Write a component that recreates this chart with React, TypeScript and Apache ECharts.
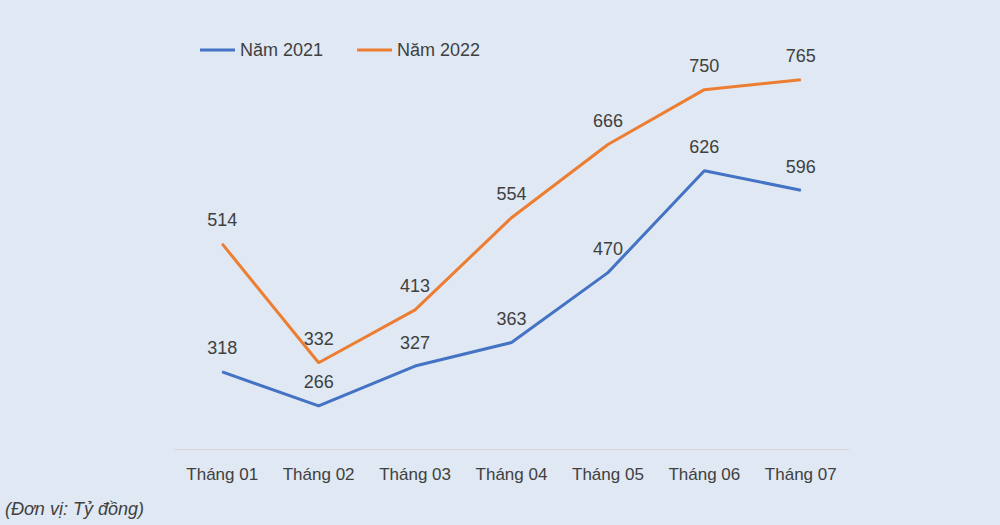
import { useEffect, useRef } from "react";
import * as echarts from "echarts";

const months = ["Tháng 01", "Tháng 02", "Tháng 03", "Tháng 04", "Tháng 05", "Tháng 06", "Tháng 07"];
const values2021 = [318, 266, 327, 363, 470, 626, 596];
const values2022 = [514, 332, 413, 554, 666, 750, 765];
const seriesNames = ["Năm 2021", "Năm 2022"];

const FONT = "'Liberation Sans', Arial, sans-serif";
const TEXT = "#404040";

export default function App() {
  const chartRef = useRef<HTMLDivElement>(null);

  useEffect(() => {
    if (!chartRef.current) return;
    document.body.style.margin = "0";
    const chart = echarts.init(chartRef.current, undefined, { renderer: "svg" });

    const labelStyle = {
      show: true,
      position: "top" as const,
      distance: 14,
      fontSize: 18,
      color: TEXT,
      fontFamily: FONT,
    };

    const option: echarts.EChartsOption = {
      animation: false,
      backgroundColor: "#dfe8f3",
      textStyle: { fontFamily: FONT },
      legend: {
        data: seriesNames,
        left: 195,
        top: 36,
        itemWidth: 35,
        itemHeight: 3,
        itemGap: 34,
        icon: "rect",
        textStyle: { fontSize: 18, color: TEXT, fontFamily: FONT },
      },
      grid: { left: 174, right: 151, top: 57, bottom: 76 },
      xAxis: {
        type: "category",
        data: months,
        axisLine: { lineStyle: { color: "#d9d6dc", width: 1 } },
        axisTick: { show: false },
        axisLabel: { interval: 0, fontSize: 17, color: TEXT, margin: 17, fontFamily: FONT },
      },
      yAxis: {
        type: "value",
        min: 200,
        max: 800,
        show: false,
        splitLine: { show: false },
      },
      graphic: [
        {
          type: "text",
          left: 5,
          top: 500,
          style: {
            text: "(Đơn vị: Tỷ đồng)",
            fontSize: 18,
            fontStyle: "italic",
            fontFamily: FONT,
            fill: TEXT,
          },
        },
      ],
      series: [
        {
          name: seriesNames[0],
          type: "line",
          data: values2021,
          symbol: "circle",
          symbolSize: 1,
          lineStyle: { color: "#4472c4", width: 3 },
          itemStyle: { color: "#4472c4" },
          label: labelStyle,
        },
        {
          name: seriesNames[1],
          type: "line",
          data: values2022,
          symbol: "circle",
          symbolSize: 1,
          lineStyle: { color: "#ed7d31", width: 3 },
          itemStyle: { color: "#ed7d31" },
          label: labelStyle,
        },
      ],
    };

    chart.setOption(option);
    return () => chart.dispose();
  }, []);

  return <div ref={chartRef} style={{ width: 1000, height: 525 }} />;
}
